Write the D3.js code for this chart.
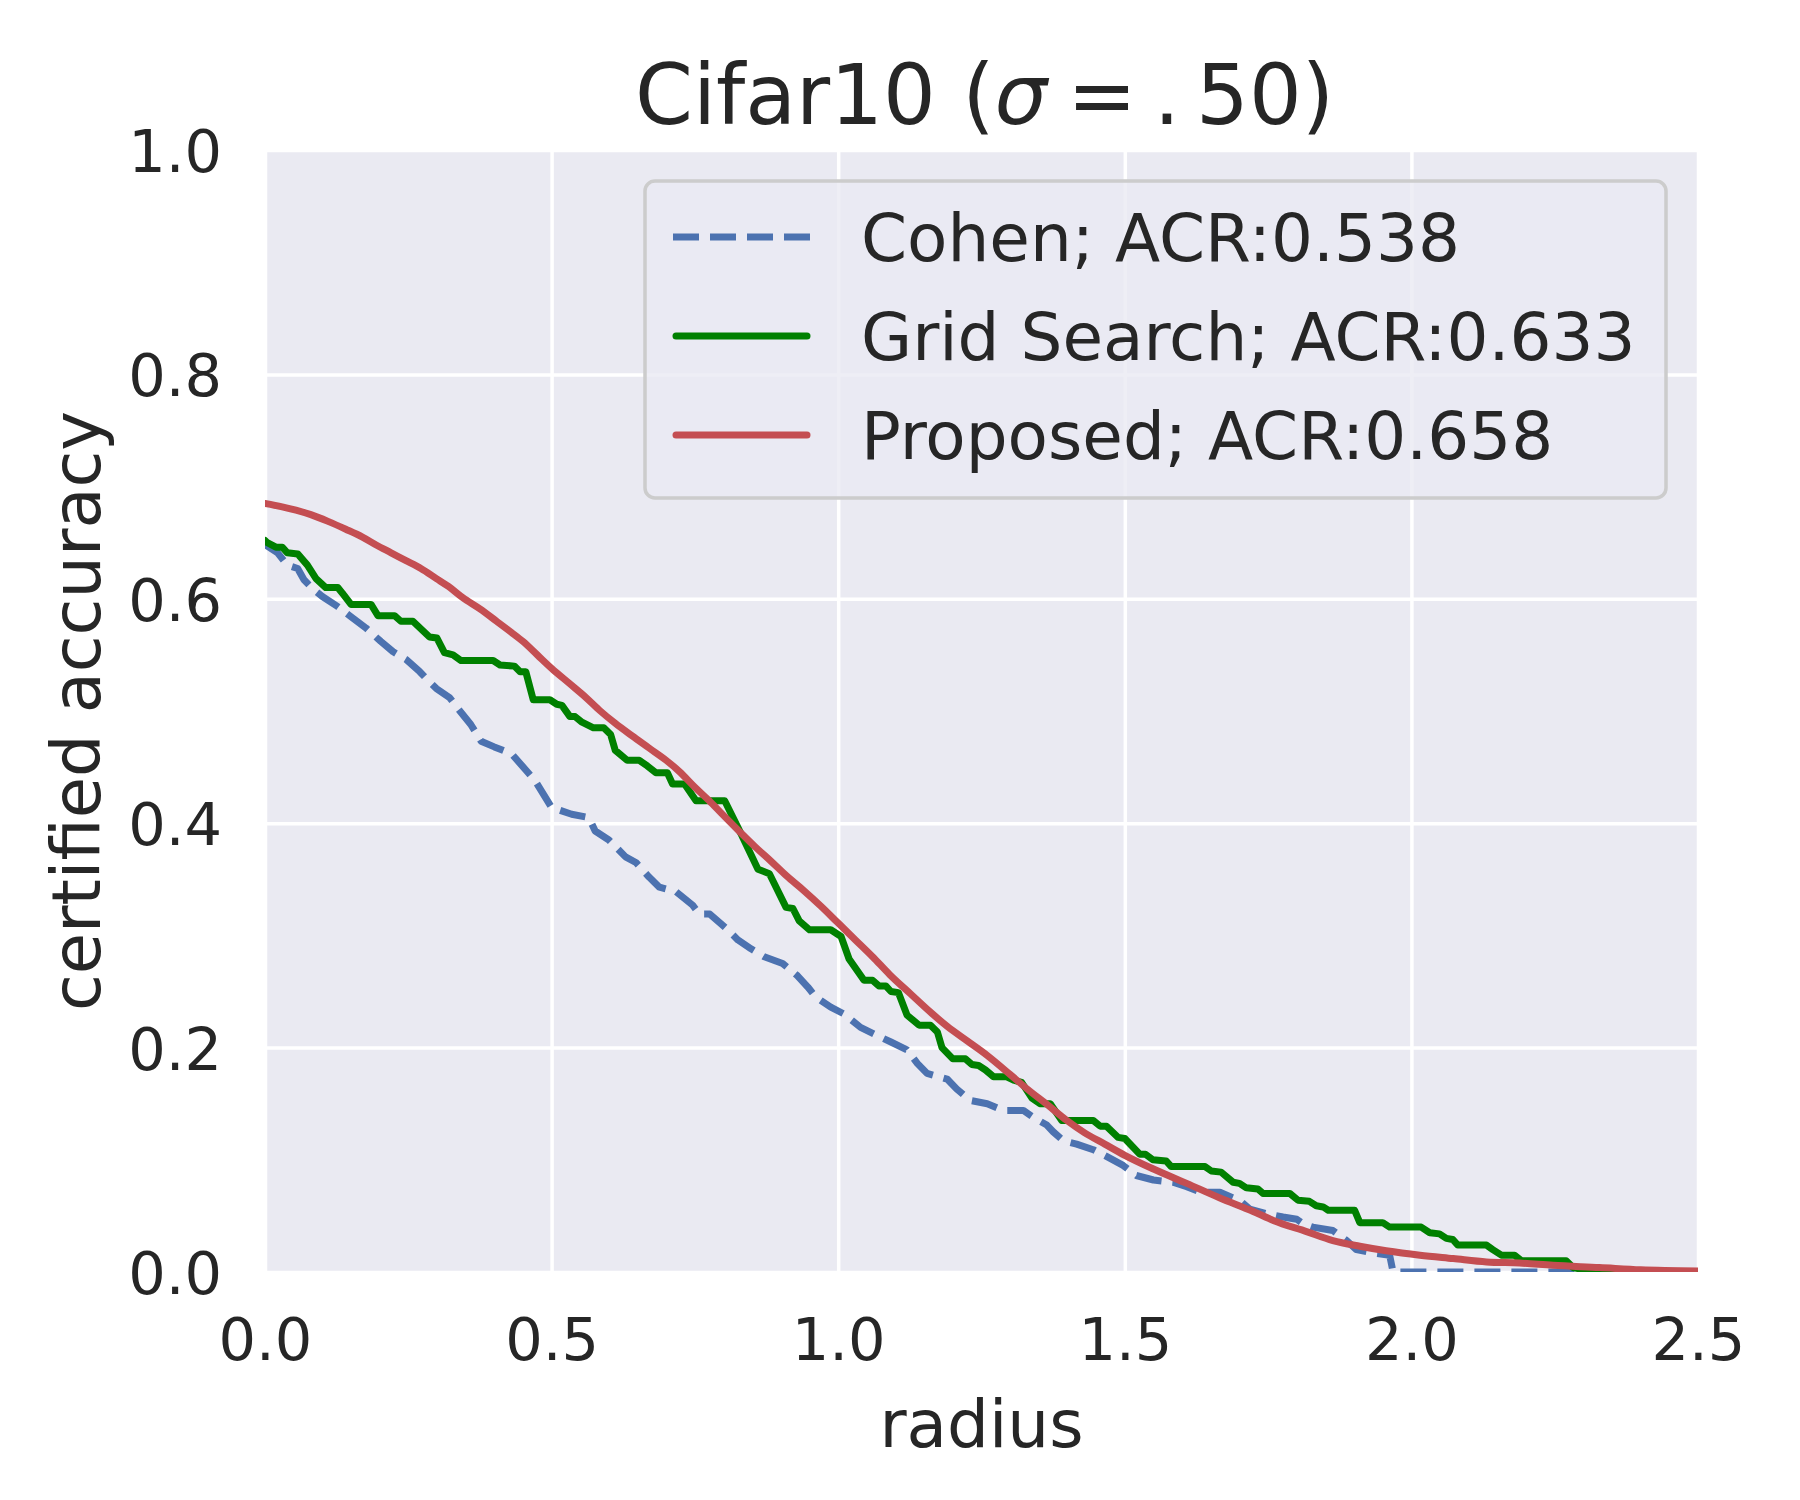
<!doctype html>
<html>
<head>
<meta charset="utf-8"/>
<title>Cifar10 certified accuracy</title>
<script src="https://d3js.org/d3.v7.min.js"></script>
<style>
  body { margin: 0; background: #ffffff; }
  text { font-family: "DejaVu Sans", sans-serif; fill: #262626; }
</style>
</head>
<body>
<div id="chart"></div>

<script>
// ---- data ----
var xTicks = [0, 0.5, 1.0, 1.5, 2.0, 2.5];
var yTicks = [0, 0.2, 0.4, 0.6, 0.8, 1.0];

var seriesNames = ["Cohen; ACR:0.538", "Grid Search; ACR:0.633", "Proposed; ACR:0.658"];
var seriesColors = ["#4C72B0", "#008000", "#C44E52"];

// [radius, certified accuracy]
var cohen = [
  [0.000,0.650],[0.004,0.647],[0.022,0.641],[0.039,0.630],[0.057,0.627],[0.068,0.617],
  [0.083,0.609],[0.100,0.602],[0.127,0.593],[0.150,0.584],[0.176,0.574],[0.202,0.562],
  [0.223,0.553],[0.246,0.546],[0.270,0.535],[0.287,0.526],[0.299,0.520],[0.322,0.512],
  [0.340,0.500],[0.359,0.488],[0.377,0.473],[0.400,0.468],[0.430,0.462],[0.471,0.438],
  [0.500,0.414],[0.535,0.408],[0.565,0.405],[0.576,0.393],[0.600,0.385],[0.629,0.370],
  [0.647,0.365],[0.670,0.352],[0.688,0.343],[0.717,0.339],[0.746,0.327],[0.758,0.319],
  [0.776,0.319],[0.805,0.306],[0.825,0.296],[0.848,0.288],[0.871,0.281],[0.903,0.275],
  [0.929,0.264],[0.947,0.254],[0.961,0.245],[0.987,0.236],[1.010,0.230],[1.039,0.218],
  [1.063,0.212],[1.092,0.205],[1.120,0.198],[1.138,0.186],[1.155,0.177],[1.190,0.172],
  [1.207,0.163],[1.230,0.153],[1.260,0.150],[1.288,0.144],[1.323,0.144],[1.343,0.137],
  [1.364,0.131],[1.375,0.125],[1.393,0.117],[1.416,0.114],[1.445,0.109],[1.468,0.103],
  [1.497,0.095],[1.520,0.086],[1.550,0.082],[1.584,0.080],[1.608,0.076],[1.634,0.071],
  [1.666,0.071],[1.689,0.066],[1.700,0.064],[1.718,0.056],[1.747,0.052],[1.776,0.049],
  [1.800,0.047],[1.811,0.043],[1.828,0.040],[1.863,0.037],[1.887,0.028],[1.904,0.020],
  [1.933,0.017],[1.962,0.015],[1.968,0.000],[2.500,0.000]
];

var gridSearch = [
  [0.000,0.652],[0.004,0.650],[0.019,0.646],[0.030,0.646],[0.039,0.641],[0.057,0.640],
  [0.074,0.630],[0.089,0.618],[0.106,0.610],[0.127,0.610],[0.135,0.605],[0.150,0.595],
  [0.185,0.595],[0.197,0.585],[0.226,0.585],[0.237,0.580],[0.258,0.580],[0.287,0.566],
  [0.300,0.565],[0.313,0.552],[0.328,0.550],[0.342,0.545],[0.398,0.545],[0.410,0.541],
  [0.435,0.540],[0.445,0.535],[0.455,0.535],[0.468,0.510],[0.497,0.510],[0.509,0.506],
  [0.518,0.505],[0.532,0.495],[0.541,0.495],[0.553,0.490],[0.573,0.485],[0.591,0.485],
  [0.603,0.479],[0.611,0.465],[0.632,0.456],[0.653,0.456],[0.667,0.451],[0.682,0.445],
  [0.702,0.445],[0.711,0.435],[0.732,0.435],[0.752,0.420],[0.802,0.420],[0.831,0.390],
  [0.860,0.359],[0.880,0.355],[0.909,0.325],[0.921,0.324],[0.932,0.313],[0.950,0.305],
  [0.987,0.305],[1.005,0.299],[1.019,0.279],[1.045,0.260],[1.060,0.260],[1.071,0.255],
  [1.083,0.255],[1.092,0.250],[1.105,0.249],[1.120,0.229],[1.141,0.220],[1.161,0.220],
  [1.173,0.214],[1.181,0.200],[1.200,0.190],[1.222,0.190],[1.233,0.185],[1.245,0.184],
  [1.257,0.180],[1.271,0.174],[1.294,0.174],[1.306,0.171],[1.320,0.169],[1.338,0.155],
  [1.352,0.150],[1.370,0.150],[1.390,0.135],[1.445,0.135],[1.457,0.130],[1.468,0.130],
  [1.488,0.120],[1.500,0.119],[1.526,0.105],[1.536,0.105],[1.549,0.100],[1.572,0.099],
  [1.581,0.094],[1.640,0.094],[1.651,0.090],[1.668,0.089],[1.689,0.080],[1.700,0.079],
  [1.712,0.075],[1.732,0.074],[1.741,0.070],[1.788,0.070],[1.802,0.064],[1.822,0.063],
  [1.834,0.059],[1.846,0.058],[1.855,0.055],[1.901,0.055],[1.910,0.044],[1.950,0.044],
  [1.962,0.040],[2.017,0.040],[2.032,0.035],[2.049,0.034],[2.061,0.030],[2.072,0.029],
  [2.081,0.024],[2.131,0.024],[2.142,0.020],[2.157,0.015],[2.180,0.015],[2.192,0.010],
  [2.270,0.010],[2.282,0.004],[2.300,0.002],[2.330,0.000],[2.500,0.000]
];

var proposed = [
  [0.000,0.685],[0.030,0.682],[0.054,0.679],[0.080,0.675],[0.110,0.669],[0.141,0.662],
  [0.170,0.655],[0.194,0.648],[0.220,0.641],[0.246,0.634],[0.272,0.627],[0.299,0.618],
  [0.320,0.611],[0.345,0.601],[0.375,0.591],[0.404,0.580],[0.430,0.570],[0.450,0.562],
  [0.475,0.550],[0.500,0.538],[0.530,0.525],[0.560,0.512],[0.585,0.500],[0.611,0.489],
  [0.640,0.478],[0.670,0.467],[0.700,0.456],[0.723,0.446],[0.750,0.432],[0.775,0.420],
  [0.796,0.409],[0.829,0.392],[0.855,0.379],[0.883,0.366],[0.910,0.353],[0.940,0.340],
  [0.970,0.326],[1.000,0.311],[1.030,0.296],[1.060,0.281],[1.090,0.265],[1.126,0.248],
  [1.160,0.232],[1.190,0.219],[1.225,0.206],[1.260,0.193],[1.300,0.176],[1.330,0.163],
  [1.365,0.149],[1.399,0.135],[1.430,0.124],[1.465,0.114],[1.500,0.104],[1.549,0.092],
  [1.608,0.079],[1.666,0.066],[1.724,0.054],[1.759,0.046],[1.817,0.036],[1.863,0.028],
  [1.910,0.023],[1.956,0.019],[2.015,0.015],[2.073,0.012],[2.131,0.009],[2.189,0.008],
  [2.247,0.006],[2.328,0.004],[2.400,0.002],[2.500,0.001]
];

var allSeries = [cohen, gridSearch, proposed];

// ---- layout ----
var W = 1800, H = 1500;
var plotL = 265, plotR = 1698, plotT = 150, plotB = 1272;
var lineW = 7;
var dashPattern = "26,11";

var svg = d3.select("#chart")
  .append("svg")
  .attr("width", W)
  .attr("height", H);

var x = d3.scaleLinear().domain([0, 2.5]).range([plotL, plotR]);
var y = d3.scaleLinear().domain([0, 1]).range([plotB, plotT]);

// plot background
svg.append("rect")
  .attr("x", plotL).attr("y", plotT)
  .attr("width", plotR - plotL).attr("height", plotB - plotT)
  .attr("fill", "#EAEAF2");

svg.append("clipPath").attr("id", "plotclip")
  .append("rect")
  .attr("x", plotL).attr("y", plotT)
  .attr("width", plotR - plotL).attr("height", plotB - plotT);

// axes with grid lines
var gx = svg.append("g")
  .attr("transform", "translate(0," + plotB + ")")
  .call(d3.axisBottom(x).tickValues(xTicks).tickSize(-(plotB - plotT))
        .tickPadding(46).tickFormat(d3.format(".1f")));

var gy = svg.append("g")
  .attr("transform", "translate(" + plotL + ",0)")
  .call(d3.axisLeft(y).tickValues(yTicks).tickSize(-(plotR - plotL))
        .tickPadding(43).tickFormat(d3.format(".1f")));

[gx, gy].forEach(function(g) {
  g.select(".domain").remove();
  g.selectAll(".tick line").attr("stroke", "#ffffff").attr("stroke-width", 3.5);
  g.selectAll(".tick text")
    .attr("font-family", "DejaVu Sans")
    .attr("font-size", 59)
    .attr("fill", "#262626");
});
gy.selectAll(".tick text").attr("dy", "0.365em");

// curves
var line = d3.line()
  .x(function(d) { return x(d[0]); })
  .y(function(d) { return y(d[1]); });

var smoothLine = d3.line()
  .curve(d3.curveMonotoneX)
  .x(function(d) { return x(d[0]); })
  .y(function(d) { return y(d[1]); });

var curves = svg.append("g").attr("clip-path", "url(#plotclip)");

allSeries.forEach(function(s, i) {
  curves.append("path")
    .datum(s)
    .attr("d", i == 2 ? smoothLine : line)
    .attr("fill", "none")
    .attr("stroke", seriesColors[i])
    .attr("stroke-width", lineW)
    .attr("stroke-linejoin", "round")
    .attr("stroke-linecap", i == 0 ? "butt" : "round")
    .attr("stroke-dasharray", i == 0 ? dashPattern : null);
});

// title
var title = svg.append("text")
  .attr("x", (plotL + plotR) / 2 + 3)
  .attr("y", 124)
  .attr("text-anchor", "middle")
  .attr("font-size", 83);
title.append("tspan").text("Cifar10 (");
title.append("tspan").attr("font-style", "italic").text("\u03c3");
title.append("tspan").attr("dx", 20).text("=");
title.append("tspan").attr("dx", 17).text(".");
title.append("tspan").attr("dx", 16).text("50)");

// axis labels
svg.append("text")
  .attr("x", (plotL + plotR) / 2)
  .attr("y", 1447)
  .attr("text-anchor", "middle")
  .attr("font-size", 66)
  .text("radius");

svg.append("text")
  .attr("transform", "translate(100," + ((plotT + plotB) / 2) + ") rotate(-90)")
  .attr("text-anchor", "middle")
  .attr("font-size", 67)
  .text("certified accuracy");

// legend
var legend = svg.append("g");
legend.append("rect")
  .attr("x", 645).attr("y", 181)
  .attr("width", 1021).attr("height", 317)
  .attr("rx", 10).attr("ry", 10)
  .attr("fill", "#EAEAF2").attr("fill-opacity", 0.8)
  .attr("stroke", "#cccccc").attr("stroke-width", 3.5);

seriesNames.forEach(function(name, i) {
  var ry = 237 + i * 99;
  legend.append("line")
    .attr("x1", i == 0 ? 673 : 676).attr("x2", i == 0 ? 811 : 807)
    .attr("y1", ry).attr("y2", ry)
    .attr("stroke", seriesColors[i])
    .attr("stroke-width", lineW)
    .attr("stroke-linecap", i == 0 ? "butt" : "round")
    .attr("stroke-dasharray", i == 0 ? dashPattern : null);
  legend.append("text")
    .attr("x", 861)
    .attr("y", ry + 24)
    .attr("font-size", 66)
    .text(name);
});
</script>
</body>
</html>
